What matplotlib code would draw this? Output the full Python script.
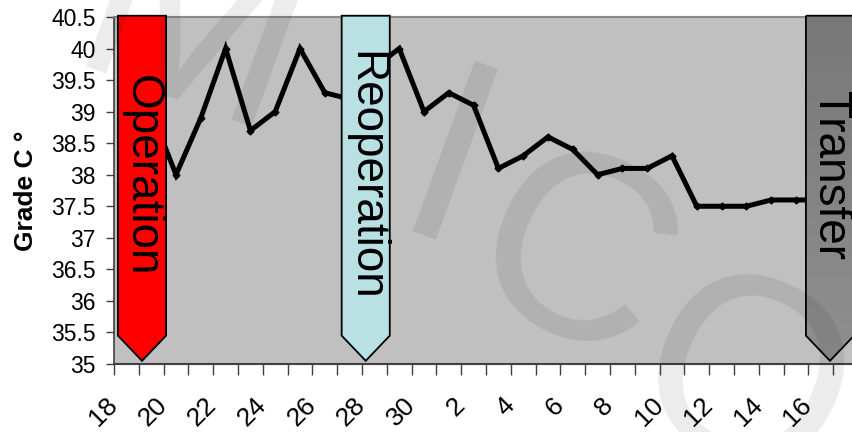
import matplotlib
matplotlib.use("Agg")
import matplotlib.pyplot as plt
import matplotlib.transforms as mtransforms
from matplotlib.patches import Polygon
import numpy as np

plt.rcParams['font.family'] = ['Liberation Sans', 'DejaVu Sans']

# day of month for each measurement (18th .. 30th, then 1st .. 17th)
days = list(range(18, 31)) + list(range(1, 18))
temps = [39.0, 39.0, 38.0, 38.9, 40.0, 38.7, 39.0, 40.0, 39.3, 39.2,
         39.7, 40.0, 39.0, 39.3, 39.1, 38.1, 38.3, 38.6, 38.4, 38.0,
         38.1, 38.1, 38.3, 37.5, 37.5, 37.5, 37.6, 37.6, 37.6, 37.6]
y_ticks = np.arange(35, 40.51, 0.5)

events = ['Operation', 'Reoperation', 'Transfer']
event_pos = [1.13, 10.15, 28.87]
event_colors = ['#ff0000', '#b9e0e3', '#858585']

fig = plt.figure(figsize=(8.52, 4.32), dpi=100)
ax = fig.add_axes([114 / 852, 68 / 432, 744 / 852, 347 / 432])
ax.set_facecolor('#c0c0c0')

x = np.arange(len(temps)) + 0.5
ax.plot(x, temps, color='black', lw=3.6, marker='D', markersize=3.5, zorder=2,
        solid_joinstyle='miter')

ax.set_xlim(0, len(temps))
ax.set_ylim(35, 40.5)

# labels at category centres (every other one), tick marks between categories
ax.set_xticks(x)
ax.set_xticklabels([str(d) if i % 2 == 0 else '' for i, d in enumerate(days)],
                   fontsize=19, rotation=45, ha='right')
ax.set_xticks(np.arange(0, len(temps) + 1), minor=True)
ax.tick_params(axis='x', which='major', length=0, pad=21)
ax.tick_params(axis='x', which='minor', length=8, width=1, color='#404040')
shift = mtransforms.ScaledTranslation(-3 / 72, 0, fig.dpi_scale_trans)
for lab in ax.get_xticklabels():
    lab.set_transform(lab.get_transform() + shift)

ax.set_yticks(y_ticks)
ax.set_yticklabels([f'{v:g}' for v in y_ticks], fontsize=16.5)
ax.tick_params(axis='y', length=6, width=1, pad=7, color='#404040')
ax.set_ylabel('Grade C °', fontsize=19, fontweight='bold')
ax.yaxis.set_label_coords(-0.102, 0.5)

ax.spines['left'].set_color('#404040')
ax.spines['bottom'].set_color('#404040')
ax.spines['left'].set_linewidth(1.2)
ax.spines['bottom'].set_linewidth(1.5)
ax.spines['top'].set_color('#8a8a8a')
ax.spines['top'].set_linewidth(1.5)
ax.spines['right'].set_visible(False)

# arrow-shaped banners marking events
half = 0.97
for name, c, col in zip(events, event_pos, event_colors):
    pts = [(c - half, 40.52), (c + half, 40.52), (c + half, 35.45),
           (c, 35.05), (c - half, 35.45)]
    if name == 'Transfer':
        poly = Polygon(pts, closed=True, facecolor='none', edgecolor='black',
                       lw=1.3, zorder=4, clip_on=False)
        ax.add_patch(poly)
        grad = np.linspace(0.47, 0.56, 100).reshape(-1, 1)
        im = ax.imshow(grad, cmap='gray', vmin=0, vmax=1, aspect='auto',
                       extent=(c - half, c + half, 35.05, 40.52), zorder=3,
                       origin='upper')
        im.set_clip_path(poly)
        im.set_clip_on(True)
    else:
        poly = Polygon(pts, closed=True, facecolor=col, edgecolor='black',
                       lw=1.3, zorder=3, clip_on=False)
        ax.add_patch(poly)
    ax.text(c, 37.98, name, rotation=-90, ha='center', va='center',
            fontsize=33, zorder=5)

# faint watermark letters over the whole picture
wm = dict(fontsize=190, color='black', alpha=0.08, ha='center', va='center',
          fontfamily='Liberation Sans', zorder=10)
fig.text(190 / 852, 1 - 40 / 432, 'M', rotation=-20, **wm)
fig.text(445 / 852, 1 - 180 / 432, 'I', rotation=-20, **wm)
fig.text(570 / 852, 1 - 270 / 432, 'C', rotation=-25, **wm)
fig.text(740 / 852, 1 - 395 / 432, 'O', rotation=-25, **wm)

fig.savefig('out.png', dpi=100)
